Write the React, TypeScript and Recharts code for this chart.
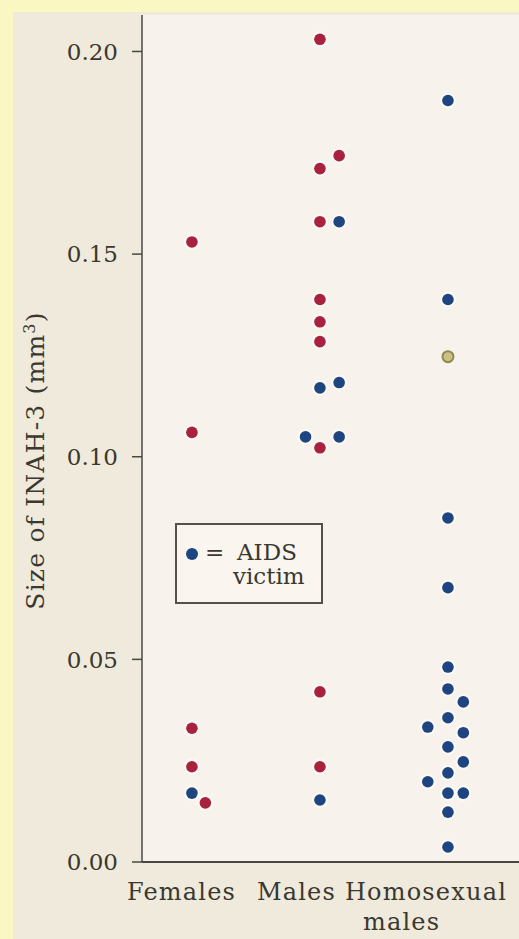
import React from 'react';
import { ScatterChart, Scatter, XAxis, YAxis, CartesianGrid, Legend, Label } from 'recharts';

const categories = ['Females', 'Males', 'Homosexual males'];
const yTicks = [0, 0.05, 0.1, 0.15, 0.2];

// [INAH-3 size in mm3, swarm slot beside the column]
const femalesOther: [number, number][] = [[0.153, 0], [0.106, 0], [0.033, 0], [0.0235, 0], [0.0146, 0.7]];
const femalesAids: [number, number][] = [[0.017, 0]];
const malesOther: [number, number][] = [
  [0.203, 0], [0.1743, 1], [0.1711, 0], [0.158, 0], [0.1388, 0],
  [0.1333, 0], [0.1284, 0], [0.1022, 0], [0.042, 0], [0.0235, 0],
];
const malesAids: [number, number][] = [[0.158, 1], [0.117, 0], [0.1183, 1], [0.1049, -0.75], [0.1049, 1], [0.0153, 0]];
const homosexualAids: [number, number][] = [
  [0.1879, 0], [0.1388, 0], [0.0849, 0], [0.0677, 0], [0.0481, 0], [0.0427, 0],
  [0.0395, 0.8], [0.0356, 0], [0.0333, -1.05], [0.0319, 0.8], [0.0284, 0], [0.0247, 0.8],
  [0.022, 0], [0.0198, -1.05], [0.017, 0], [0.017, 0.8], [0.0123, 0], [0.0037, 0],
];
const homosexualOther: [number, number][] = [[0.1247, 0]];

const SLOT = 0.15;
const toPoints = (group: number, list: [number, number][]) =>
  list.map(([size, slot]) => ({ x: group + 1 + slot * SLOT, y: size }));

const controlData = [...toPoints(0, femalesOther), ...toPoints(1, malesOther)];
const aidsData = [...toPoints(0, femalesAids), ...toPoints(1, malesAids), ...toPoints(2, homosexualAids)];
const otherData = toPoints(2, homosexualOther);

const INK = '#3a3830';
const RED = '#a8213f';
const BLUE = '#1f4580';
const FONT = '"DejaVu Serif", serif';

// label start offsets per line, relative to tick
const tickLineStarts = [[-65], [-63], [-103, -85]];

const XTick = (props: any) => {
  const { x, y, index } = props;
  const lines = categories[index].split(' ');
  return (
    <g>
      {lines.map((line, i) => (
        <text key={i} x={x + tickLineStarts[index][i]} y={y + 38 + i * 30} fill={INK} fontSize={24} letterSpacing={1.2} fontFamily={FONT} textAnchor="start">
          {line}
        </text>
      ))}
    </g>
  );
};

const dot = (color: string) => (props: any) => (
  <g>
    <circle cx={props.cx} cy={props.cy} r={8} fill="#ffffff" opacity={0.5} />
    <circle cx={props.cx} cy={props.cy} r={5.8} fill={color} />
  </g>
);

const oliveDot = (props: any) => (
  <circle cx={props.cx} cy={props.cy} r={5.5} fill="#c8c384" stroke="#8f8b4c" strokeWidth={2} />
);

const renderYLabel = (props: any) => {
  const vb = props.viewBox;
  const cx = 44;
  const cy = vb.y + vb.height / 2 + 22;
  return (
    <text x={cx} y={cy} transform={`rotate(-90, ${cx}, ${cy})`} textAnchor="middle" fill={INK} fontSize={25} fontFamily={FONT} letterSpacing={1.2}>
      Size of INAH-3 (mm<tspan fontSize={16} dy={-9}>3</tspan><tspan dy={9}>)</tspan>
    </text>
  );
};

const renderLegend = (props: any) => {
  const entry = (props.payload || []).find((p: any) => p.value === 'AIDS victim');
  if (!entry) return null;
  const [first, second] = entry.value.split(' ');
  return (
    <svg width={148} height={81}>
      <rect x={1} y={1} width={146} height={79} fill="#faf6ef" stroke="#555048" strokeWidth={2} />
      <circle cx={17} cy={31} r={6} fill={entry.color} />
      <text x={30} y={37} fill={INK} fontSize={23} fontFamily={FONT}>=</text>
      <text x={62} y={37} fill={INK} fontSize={23} fontFamily={FONT}>{first}</text>
      <text x={58} y={61} fill={INK} fontSize={23} fontFamily={FONT}>{second}</text>
    </svg>
  );
};

export default function App() {
  return (
    <div style={{ position: 'absolute', left: 0, top: 0, width: 519, height: 939, background: '#fbf7c3', overflow: 'hidden', fontFamily: FONT }}>
      <div style={{ position: 'absolute', left: 13, top: 12, right: 0, bottom: 0, background: '#efeadb' }} />
      <div style={{ position: 'absolute', left: 0, top: 0 }}>
        <ScatterChart width={519} height={939} margin={{ top: 15, right: 0, bottom: 0, left: 0 }}>
          <CartesianGrid horizontal={false} vertical={false} fill="#f7f2eb" />
          <XAxis
            type="number"
            dataKey="x"
            domain={[0.61, 3.555]}
            ticks={[1, 2, 3]}
            allowDataOverflow
            tickLine={false}
            tickSize={0}
            tickMargin={0}
            height={77}
            axisLine={{ stroke: '#4a4843', strokeWidth: 2 }}
            tick={<XTick />}
          />
          <YAxis
            type="number"
            dataKey="y"
            domain={[0, 0.209]}
            ticks={yTicks}
            allowDataOverflow
            width={142}
            tickSize={10}
            tickMargin={14}
            tickFormatter={(v: number) => v.toFixed(2)}
            axisLine={{ stroke: '#4a4843', strokeWidth: 1.5 }}
            tickLine={{ stroke: '#4a4843', strokeWidth: 1.5 }}
            tick={{ fill: INK, fontSize: 23, fontFamily: FONT }}
          >
            <Label content={renderYLabel} />
          </YAxis>
          <Legend
            layout="horizontal"
            verticalAlign="middle"
            align="center"
            content={renderLegend}
            wrapperStyle={{ position: 'absolute', left: 175, top: 523, width: 148, height: 81 }}
          />
          <Scatter name="Control" data={controlData} fill={RED} shape={dot(RED)} legendType="none" isAnimationActive={false} />
          <Scatter name="AIDS victim" data={aidsData} fill={BLUE} shape={dot(BLUE)} isAnimationActive={false} />
          <Scatter name="Other" data={otherData} fill="#c8c384" shape={oliveDot} legendType="none" isAnimationActive={false} />
        </ScatterChart>
      </div>
    </div>
  );
}
